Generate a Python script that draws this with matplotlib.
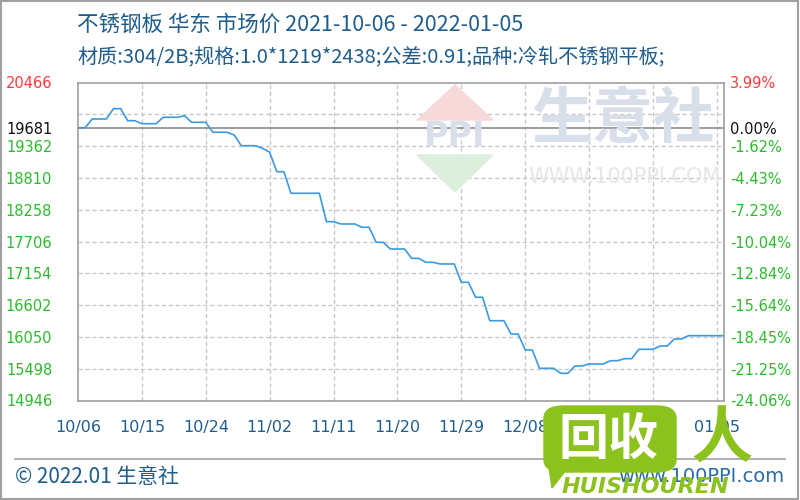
import matplotlib
matplotlib.use("Agg")
import matplotlib.pyplot as plt
from matplotlib.patches import Polygon, Rectangle, FancyBboxPatch
from matplotlib.lines import Line2D

plt.rcParams['font.family'] = ['Noto Sans CJK SC', 'DejaVu Sans']

# ---------------- data ----------------
title_line1 = "不锈钢板 华东 市场价 2021-10-06 - 2022-01-05"
title_line2 = "材质:304/2B;规格:1.0*1219*2438;公差:0.91;品种:冷轧不锈钢平板;"
base_price = 19681
prices = [
    19681, 19681, 19833, 19833, 19833, 20012, 20012, 19803, 19803, 19751,
    19751, 19751, 19862, 19862, 19862, 19890, 19775, 19775, 19775, 19602,
    19602, 19602, 19555, 19369, 19369, 19369, 19324, 19255, 18918, 18918,
    18543, 18543, 18543, 18543, 18543, 18050, 18050, 18010, 18010, 18010,
    17953, 17953, 17692, 17692, 17576, 17576, 17576, 17414, 17414, 17345,
    17345, 17316, 17316, 17316, 16998, 16998, 16738, 16738, 16331, 16331,
    16331, 16100, 16100, 15823, 15823, 15505, 15505, 15505, 15418, 15418,
    15545, 15545, 15580, 15580, 15580, 15637, 15637, 15672, 15672, 15835,
    15835, 15835, 15892, 15892, 16014, 16014, 16071, 16071, 16071, 16071,
    16071, 16071,
]
x_tick_labels = ["10/06", "10/15", "10/24", "11/02", "11/11", "11/20",
                 "11/29", "12/08", "12/17", "12/26", "01/05"]
y_min, y_max = 14946, 20466
grid_values = [14946, 15498, 16050, 16602, 17154, 17706, 18258, 18810, 19362, 19914]
label_values = [14946, 15498, 16050, 16602, 17154, 17706, 18258, 18810, 19362, 19681, 20466]
footer_left = "© 2022.01 生意社"
footer_right = "www.100PPI.com"

# ---------------- figure ----------------
W, H = 800, 500
fig = plt.figure(figsize=(8, 5), dpi=100)
fig.patch.set_facecolor("white")

def fx(px):
    return px / W

def fy(py):
    return 1 - py / H

L, R, T, B = 78, 724, 82.5, 400.5
ax = fig.add_axes([fx(L), fy(B), fx(R - L), (B - T) / H])
days = list(range(len(prices)))
ax.set_xlim(0, len(prices) - 1)
ax.set_ylim(y_min, y_max)

# watermark (behind data)
wm_col_red = "#f7d9d9"
wm_col_green = "#dcefdd"
wm_col_blue = "#d8dfea"
fig.patches.append(Polygon([(fx(417), fy(120)), (fx(493), fy(120)), (fx(455), fy(85))],
                           closed=True, transform=fig.transFigure, color=wm_col_red, zorder=0.5))
fig.patches.append(Polygon([(fx(417), fy(155)), (fx(493), fy(155)), (fx(455), fy(192))],
                           closed=True, transform=fig.transFigure, color=wm_col_green, zorder=0.5))
fig.text(fx(455), fy(137), "PPI", color=wm_col_blue, fontsize=24, fontweight="bold",
         ha="center", va="center", family=["DejaVu Sans"], zorder=0.6)
fig.text(fx(623), fy(120), "生意社", color=wm_col_blue, fontsize=44, fontweight="bold",
         ha="center", va="center", zorder=0.6)
fig.text(fx(624), fy(177), "WWW.100PPI.COM", color="#e6e6e6", fontsize=15,
         ha="center", va="center", family=["DejaVu Sans"], zorder=0.6)
ax.set_facecolor("none")

# grid
for gv in grid_values:
    ax.axhline(gv, color="#c8c8c8", lw=1, ls=(0, (3, 2)), zorder=1)
for d in range(9, len(prices), 9):
    ax.axvline(d, color="#c8c8c8", lw=1, ls=(0, (3, 2)), zorder=1)
ax.axhline(base_price, color="#8c8c8c", lw=1.2, zorder=2)

ax.plot(days, prices, color="#3b9ae1", lw=1.2, zorder=3)

for s in ax.spines.values():
    s.set_color("#a0a0a0")
    s.set_linewidth(1.2)

def ycolor(v):
    if v > base_price:
        return "#ff3b3b"
    if v == base_price:
        return "#111111"
    return "#2dbb2d"

ax.set_yticks(label_values)
ax.set_yticklabels([str(v) for v in label_values], family=["DejaVu Sans"], fontsize=10.5)
for lbl, v in zip(ax.get_yticklabels(), label_values):
    lbl.set_color(ycolor(v))
ax.tick_params(axis="y", length=0, pad=18.5)

ax.set_xticks(list(range(0, len(prices), 9)))
ax.set_xticklabels(x_tick_labels, family=["DejaVu Sans"], fontsize=11.5, color="#1f5d8c")
ax.tick_params(axis="x", length=0, pad=14)

ax2 = ax.twinx()
ax2.set_ylim(y_min, y_max)
ax2.set_yticks(label_values)
ax2.set_yticklabels([f"{(v - base_price) / base_price * 100:.2f}%" for v in label_values],
                    family=["DejaVu Sans"], fontsize=10.5)
for lbl, v in zip(ax2.get_yticklabels(), label_values):
    lbl.set_color(ycolor(v))
ax2.tick_params(axis="y", length=0, pad=4.5)
for s in ax2.spines.values():
    s.set_visible(False)

# titles
title_color = "#1f5d8c"
fig.text(fx(77), fy(25), title_line1, color=title_color, fontsize=15.5, ha="left", va="center")
fig.text(fx(77), fy(57), title_line2, color=title_color, fontsize=14.5, ha="left", va="center")

# footer
fig.lines.append(Line2D([fx(15), fx(785)], [fy(459), fy(459)], transform=fig.transFigure,
                        color="#a0a0a0", lw=1.2))
fig.text(fx(15), fy(477), footer_left, color=title_color, fontsize=15, ha="left", va="center")
fig.text(fx(784), fy(476), footer_right, color="#2a6aa8", fontsize=14, ha="right", va="center",
         family=["DejaVu Sans"])

# outer border
fig.patches.append(Rectangle((0.001, 0.002), 0.997, 0.996, transform=fig.transFigure,
                             fill=False, edgecolor="#a0a0a0", lw=1.5))

# overlay logo
logo_green = "#8cc21e"
fig.patches.append(FancyBboxPatch((fx(544), fy(472)), fx(132), (472 - 406) / H,
                                  boxstyle="round,pad=0.0,rounding_size=0.025",
                                  transform=fig.transFigure, color=logo_green, zorder=10))
fig.patches.append(Polygon([(fx(548), fy(460)), (fx(570), fy(465)), (fx(552), fy(488))],
                           closed=True, transform=fig.transFigure, color=logo_green, zorder=10))
fig.text(fx(609), fy(440), "回收", color="white", fontsize=36, fontweight="bold",
         ha="center", va="center", zorder=11)
fig.text(fx(645), fy(487), "HUISHOUREN", color=logo_green, fontsize=16, fontweight="bold",
         style="italic", ha="center", va="center", family=["DejaVu Sans"], zorder=11)
fig.text(fx(722), fy(440), "人", color=logo_green, fontsize=44, fontweight="bold",
         ha="center", va="center", zorder=11)

fig.savefig("out.png", dpi=100)
